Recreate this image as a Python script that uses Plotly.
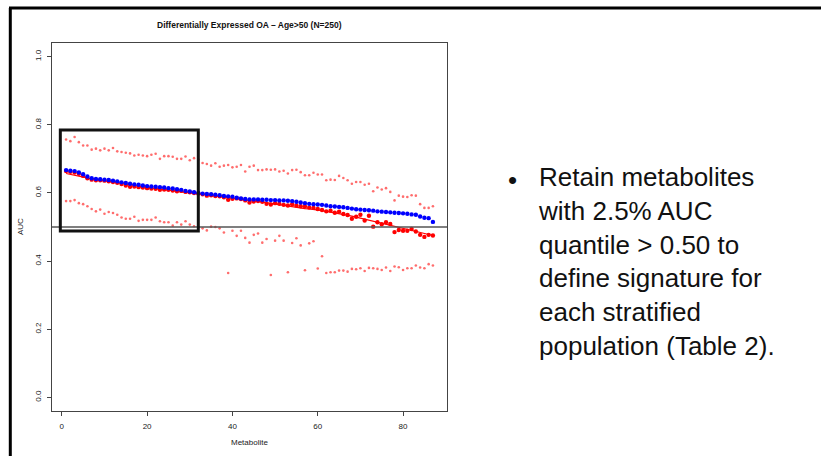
import plotly.graph_objects as go

# ---------------- data ----------------
metabolite = list(range(1, 88))

auc_observed = [
    0.667, 0.665, 0.664, 0.660, 0.655, 0.648, 0.643, 0.641, 0.640, 0.639,
    0.638, 0.636, 0.634, 0.631, 0.629, 0.627, 0.625, 0.624, 0.622, 0.620,
    0.619, 0.618, 0.617, 0.616, 0.614, 0.613, 0.611, 0.609, 0.606, 0.604,
    0.602, 0.600, 0.598, 0.597, 0.596, 0.595, 0.593, 0.591, 0.590, 0.589,
    0.586, 0.584, 0.582, 0.581, 0.581, 0.581, 0.580, 0.580, 0.579, 0.579,
    0.578, 0.578, 0.577, 0.576, 0.574, 0.572, 0.570, 0.568, 0.567, 0.566,
    0.565, 0.563, 0.561, 0.560, 0.559, 0.558, 0.556, 0.554, 0.552, 0.551,
    0.550, 0.549, 0.548, 0.546, 0.545, 0.544, 0.543, 0.542, 0.541, 0.540,
    0.539, 0.537, 0.536, 0.531, 0.527, 0.526, 0.515]

auc_boot_mean = [
    0.664, 0.662, 0.660, 0.656, 0.650, 0.643, 0.639, 0.637, 0.637, 0.636,
    0.634, 0.632, 0.630, 0.626, 0.622, 0.618, 0.619, 0.617, 0.616, 0.614,
    0.613, 0.612, 0.609, 0.610, 0.609, 0.607, 0.605, 0.606, 0.603, 0.602,
    0.600, 0.598, 0.596, 0.592, 0.593, 0.591, 0.590, 0.587, 0.580, 0.583,
    0.584, 0.582, 0.578, 0.572, 0.575, 0.576, 0.574, 0.568, 0.566, 0.570,
    0.568, 0.565, 0.563, 0.567, 0.563, 0.561, 0.560, 0.557, 0.556, 0.553,
    0.550, 0.546, 0.548, 0.542, 0.545, 0.538, 0.535, 0.524, 0.530, 0.536,
    0.519, 0.533, 0.501, 0.514, 0.508, 0.514, 0.509, 0.485, 0.491, 0.489,
    0.489, 0.494, 0.487, 0.477, 0.471, 0.477, 0.475]

auc_boot_fit = [
    0.657, 0.654, 0.651, 0.648, 0.645, 0.643, 0.641, 0.639, 0.637, 0.635,
    0.633, 0.631, 0.629, 0.627, 0.625, 0.623, 0.621, 0.619, 0.617, 0.616,
    0.614, 0.612, 0.611, 0.609, 0.608, 0.606, 0.605, 0.603, 0.602, 0.600,
    0.599, 0.597, 0.596, 0.594, 0.592, 0.591, 0.589, 0.588, 0.586, 0.584,
    0.583, 0.581, 0.580, 0.578, 0.576, 0.575, 0.573, 0.571, 0.570, 0.568,
    0.566, 0.564, 0.562, 0.560, 0.558, 0.556, 0.554, 0.553, 0.552, 0.550,
    0.548, 0.546, 0.544, 0.542, 0.540, 0.538, 0.535, 0.532, 0.529, 0.526,
    0.523, 0.520, 0.517, 0.514, 0.511, 0.508, 0.505, 0.502, 0.499, 0.496,
    0.493, 0.490, 0.487, 0.484, 0.481, 0.478, 0.475]

auc_q975 = [
    0.757, 0.752, 0.764, 0.749, 0.739, 0.739, 0.727, 0.730, 0.725, 0.730,
    0.725, 0.732, 0.722, 0.720, 0.718, 0.716, 0.710, 0.712, 0.710, 0.708,
    0.712, 0.715, 0.700, 0.708, 0.708, 0.706, 0.700, 0.700, 0.707, 0.696,
    0.702, 0.698, 0.688, 0.685, 0.680, 0.687, 0.677, 0.680, 0.682, 0.675,
    0.677, 0.682, 0.663, 0.677, 0.680, 0.667, 0.667, 0.669, 0.668, 0.669,
    0.663, 0.665, 0.657, 0.667, 0.668, 0.661, 0.652, 0.652, 0.659, 0.654,
    0.654, 0.637, 0.639, 0.638, 0.650, 0.644, 0.637, 0.627, 0.632, 0.632,
    0.624, 0.627, 0.605, 0.616, 0.610, 0.614, 0.603, 0.578, 0.592, 0.589,
    0.588, 0.593, 0.592, 0.567, 0.556, 0.556, 0.561]

auc_q025 = [
    0.576, 0.576, 0.579, 0.570, 0.567, 0.561, 0.553, 0.546, 0.551, 0.539,
    0.544, 0.541, 0.536, 0.528, 0.524, 0.524, 0.530, 0.518, 0.521, 0.521,
    0.521, 0.528, 0.517, 0.514, 0.514, 0.504, 0.514, 0.507, 0.517, 0.507,
    0.502, 0.500, 0.496, 0.490, 0.501, 0.500, 0.496, 0.484, 0.365, 0.489,
    0.474, 0.489, 0.468, 0.454, 0.477, 0.481, 0.454, 0.465, 0.359, 0.460,
    0.474, 0.460, 0.367, 0.453, 0.467, 0.446, 0.373, 0.452, 0.458, 0.378,
    0.414, 0.365, 0.367, 0.367, 0.372, 0.372, 0.369, 0.377, 0.376, 0.379,
    0.371, 0.380, 0.379, 0.377, 0.374, 0.381, 0.371, 0.384, 0.382, 0.374,
    0.379, 0.379, 0.387, 0.381, 0.379, 0.391, 0.387]

x_ticks = [0, 20, 40, 60, 80]
y_ticks = [0.0, 0.2, 0.4, 0.6, 0.8, 1.0]
threshold = 0.5
highlight_box = {"x0": -0.35, "x1": 32.0, "y0": 0.488, "y1": 0.785}

chart_title = "Differentially Expressed OA \u2013 Age>50 (N=250)"
x_title = "Metabolite"
y_title = "AUC"
bullet_lines = ["Retain metabolites", "with 2.5% AUC", "quantile > 0.50 to",
                "define signature for", "each stratified", "population (Table 2)."]

# ---------------- layout helpers ----------------
W, H = 821, 456
ML, MR, MT, MB = 52, 374, 43, 45
PW, PH = W - ML - MR, H - MT - MB


def px_x(px):
    return (px - ML) / PW


def px_y(py):
    return (H - MB - py) / PH


FONT = "Liberation Sans, Arial, Helvetica, sans-serif"
AX = "#444444"

fig = go.Figure()

small_dot = dict(color="rgba(255,60,60,0.75)", size=2.6)
fig.add_trace(go.Scatter(x=metabolite, y=auc_q975, mode="markers", marker=small_dot))
fig.add_trace(go.Scatter(x=metabolite, y=auc_q025, mode="markers", marker=small_dot))
fig.add_trace(go.Scatter(x=metabolite, y=auc_boot_mean, mode="markers",
                         marker=dict(color="#ff0000", size=4.4)))
fig.add_trace(go.Scatter(x=metabolite, y=auc_boot_fit, mode="lines",
                         line=dict(color="#ff0000", width=1.2)))
fig.add_trace(go.Scatter(x=metabolite, y=auc_observed, mode="markers",
                         marker=dict(color="#0000ff", size=4.4)))

axis_common = dict(showgrid=False, zeroline=False, showline=True, mirror=True,
                   linecolor=AX, linewidth=1, ticks="outside", ticklen=4,
                   tickwidth=1, tickcolor=AX,
                   tickfont=dict(family=FONT, size=8, color="#222222"))

fig.update_xaxes(range=[-2.3, 90.3], tickvals=x_ticks, ticklabelstandoff=3, **axis_common)
fig.update_yaxes(range=[-0.04, 1.04], tickvals=y_ticks, tickformat=".1f",
                 tickangle=-90, ticklabelstandoff=3, **axis_common)

shapes = [
    # threshold line
    dict(type="line", xref="paper", yref="y", x0=0, x1=1, y0=threshold, y1=threshold,
         line=dict(color="#555555", width=1.4)),
    # highlight rectangle
    dict(type="rect", xref="x", yref="y", line=dict(color="#111111", width=3),
         fillcolor="rgba(0,0,0,0)", **highlight_box),
    # slide border (left and top)
    dict(type="line", xref="paper", yref="paper", x0=px_x(10.3), x1=px_x(10.3),
         y0=px_y(8), y1=px_y(470), line=dict(color="#000000", width=3)),
    dict(type="line", xref="paper", yref="paper", x0=px_x(9), x1=px_x(830),
         y0=px_y(8), y1=px_y(8), line=dict(color="#000000", width=3)),
]

annotations = [
    dict(text="<b>" + chart_title + "</b>", xref="paper", yref="paper",
         x=px_x(249), y=px_y(25), xanchor="center", yanchor="middle", showarrow=False,
         font=dict(family=FONT, size=8.5, color="#111111")),
    dict(text=y_title, xref="paper", yref="paper", x=px_x(20), y=px_y(227),
         textangle=-90, xanchor="center", yanchor="middle", showarrow=False,
         font=dict(family=FONT, size=8, color="#222222")),
    dict(text=x_title, xref="paper", yref="paper", x=px_x(249), y=px_y(442),
         xanchor="center", yanchor="middle", showarrow=False,
         font=dict(family=FONT, size=8, color="#222222")),
    dict(text="\u2022", xref="paper", yref="paper", x=px_x(512), y=px_y(180),
         xanchor="center", yanchor="middle", showarrow=False,
         font=dict(family=FONT, size=26, color="#111111")),
    dict(text="<br>".join(bullet_lines), xref="paper", yref="paper",
         x=px_x(536), y=px_y(261), xanchor="left", yanchor="middle", align="left",
         showarrow=False, font=dict(family=FONT, size=26, color="#111111")),
]

fig.update_layout(
    width=W, height=H, margin=dict(l=ML, r=MR, t=MT, b=MB),
    paper_bgcolor="white", plot_bgcolor="white", showlegend=False,
    shapes=shapes, annotations=annotations,
)

fig.write_html(
    "out.html",
    config={"displayModeBar": False},
    post_script="document.body.style.margin='0';document.body.style.overflow='hidden';",
)
